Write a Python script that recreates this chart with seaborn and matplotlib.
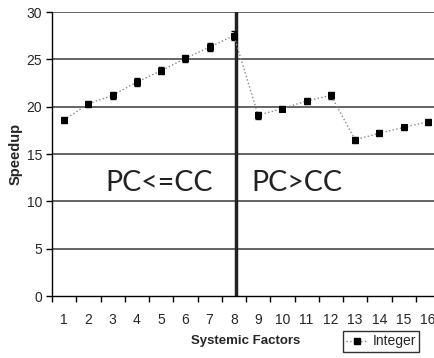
import matplotlib
matplotlib.use("Agg")
import matplotlib.pyplot as plt
import seaborn as sns
import pandas as pd
from matplotlib.lines import Line2D

factors = list(range(1, 17))
speedup = [18.6, 20.3, 21.2, 22.6, 23.8, 25.1, 26.3, 27.5,
           19.1, 19.8, 20.6, 21.2, 16.5, 17.2, 17.8, 18.4]
err = [0.35, 0.35, 0.4, 0.4, 0.4, 0.4, 0.4, 0.45,
       0.35, 0.3, 0.35, 0.4, 0.3, 0.3, 0.3, 0.3]
yticks = [0, 5, 10, 15, 20, 25, 30]

sns.set_theme(style="white")
plt.rcParams['font.family'] = ['Liberation Sans Narrow', 'Liberation Sans', 'DejaVu Sans']

df = pd.DataFrame({"factor": factors, "speedup": speedup})

fig = plt.figure(figsize=(4.35, 3.58), dpi=100)
ax = fig.add_axes([52/435, 1-296/358, 388/435, 284/358])

for y in yticks[1:]:
    ax.axhline(y, color='#3a3a3a', lw=1.1, zorder=1)

ax.errorbar(factors, speedup, yerr=err, fmt='none', ecolor='black',
            elinewidth=1.0, capsize=2.5, capthick=1.0, zorder=3)
sns.lineplot(data=df, x="factor", y="speedup", ax=ax, color='#888888',
             linestyle=':', lw=1.0, marker='s', markersize=4.5,
             markerfacecolor='black', markeredgecolor='black', zorder=4)

ax.plot([8.07, 8.07], [0, 30], color='#222222', lw=2.5, zorder=2)

ax.text(4.9, 11.9, "PC<=CC", fontsize=20.5, family=['Lato', 'DejaVu Sans'],
        ha='center', va='center', color='#222222')
ax.text(10.6, 11.9, "PC>CC", fontsize=20.5, family=['Lato', 'DejaVu Sans'],
        ha='center', va='center', color='#222222')

ax.set_xlim(0.5, 16.5)
ax.set_ylim(0, 30)
ax.set_yticks(yticks)
ax.set_xticks(factors)
ax.set_xticklabels([str(f) for f in factors])
ax.set_xticks([i + 0.5 for i in range(0, 17)], minor=True)
ax.tick_params(axis='x', which='major', length=0, pad=12, labelsize=10)
ax.tick_params(axis='x', which='minor', length=4, width=1, color='black', direction='out', bottom=True)
ax.tick_params(axis='y', length=4, width=1, color='black', direction='out', left=True, labelsize=10, pad=3)

for s in ['top', 'right']:
    ax.spines[s].set_visible(False)
for s in ['left', 'bottom']:
    ax.spines[s].set_color('black')
    ax.spines[s].set_linewidth(1.0)

ax.set_ylabel("Speedup", fontsize=10.5, fontweight='bold', labelpad=3,
              family=['Liberation Sans', 'DejaVu Sans'])
ax.set_xlabel("Systemic Factors", fontsize=9.5, fontweight='bold', labelpad=6,
              family=['Liberation Sans', 'DejaVu Sans'])

handle = Line2D([], [], color='#888888', linestyle=':', lw=1.0, marker='s',
                markersize=4, markerfacecolor='black', markeredgecolor='black')
leg = fig.legend([handle], ["Integer"], loc='center',
                 bbox_to_anchor=(381/435, 1-341.5/358), frameon=True,
                 fontsize=10, handlelength=1.6, handletextpad=0.3,
                 borderpad=0.25, fancybox=False)
leg.get_frame().set_edgecolor('black')
leg.get_frame().set_linewidth(1.0)

fig.savefig("out.png", dpi=100)
